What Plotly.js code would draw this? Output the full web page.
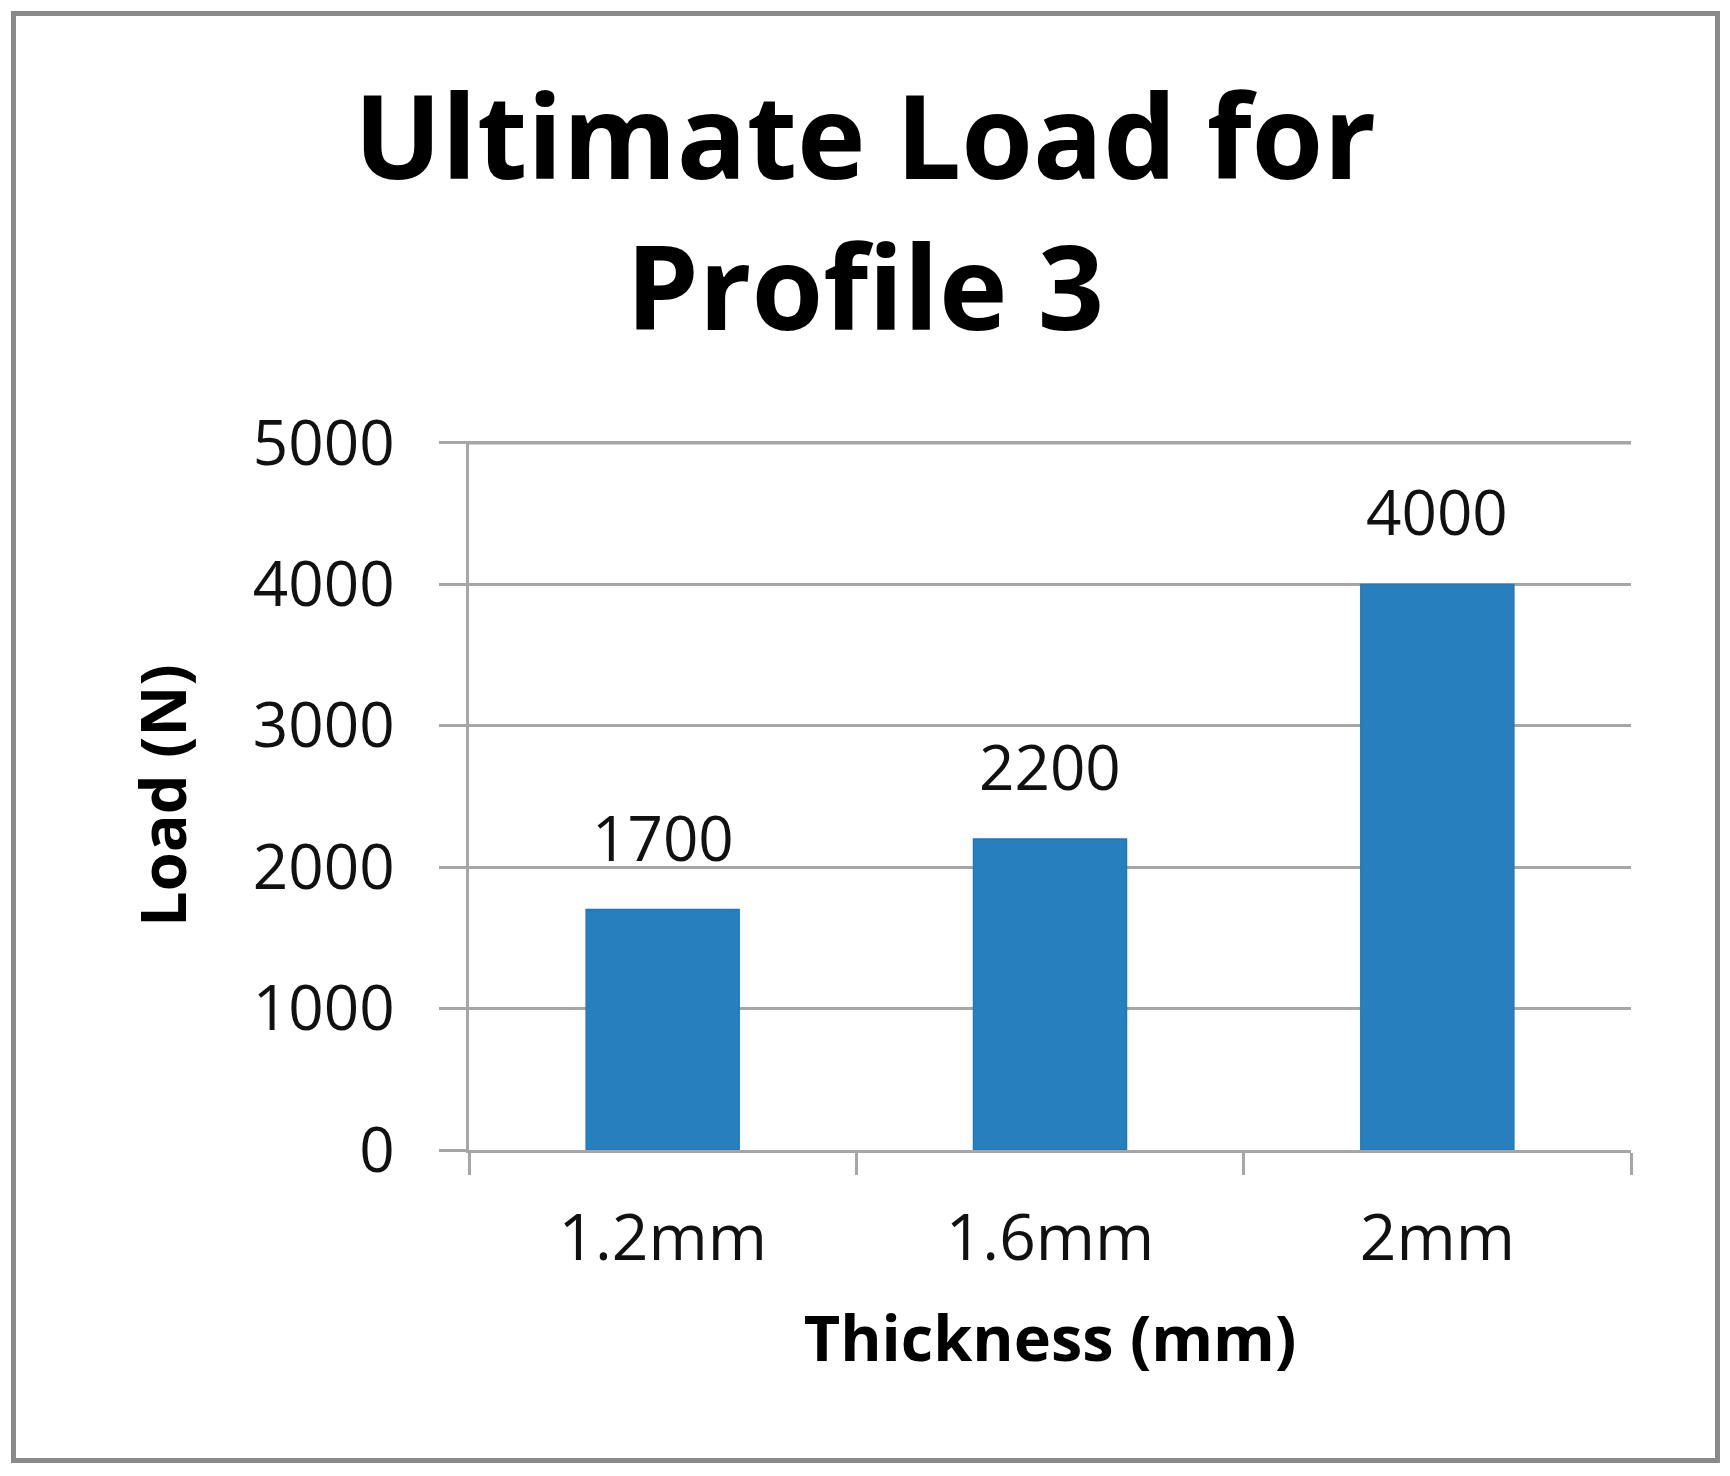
<!DOCTYPE html>
<html>
<head>
<meta charset="utf-8">
<script src="https://cdn.plot.ly/plotly-3.0.1.min.js"></script>
<style>
  html, body { margin: 0; padding: 0; background: #ffffff; }
  #chart { width: 1730px; height: 1476px; position: relative; }
  #frame { position: absolute; left: 11px; top: 11px; width: 1709px; height: 1452px;
           box-sizing: border-box; border: 5px solid #8a8a8a; pointer-events: none; }
</style>
</head>
<body>
<div id="chart"></div>
<div id="frame"></div>
<script>
const categories = ["1.2mm", "1.6mm", "2mm"];
const loads = [1700, 2200, 4000];
const yTicks = [0, 1000, 2000, 3000, 4000, 5000];

const font = "Open Sans, Noto Sans, sans-serif";
const gridColor = "#a6a6a6";

const trace = {
  type: "bar",
  x: categories,
  y: loads,
  marker: { color: "#2780be", line: { color: "#1f77c0", width: 1.5 } },
  hoverinfo: "skip"
};

const annotations = categories.map((c, i) => ({
  x: c, y: loads[i], xref: "x", yref: "y",
  text: String(loads[i]),
  showarrow: false, yanchor: "bottom", yshift: 29,
  font: { family: font, size: 62, color: "#111111" }
}));

const yMax = yTicks[yTicks.length - 1];

const layout = {
  width: 1730, height: 1476,
  margin: { l: 469, r: 99, t: 441, b: 326, pad: 0 },
  paper_bgcolor: "#ffffff", plot_bgcolor: "#ffffff",
  showlegend: false,
  bargap: 0.605,
  title: {
    text: "Ultimate Load for<br>Profile 3",
    x: 0.5, xanchor: "center",
    y: 1 - 179 / 1476, yref: "container", yanchor: "top",
    font: { family: font, size: 116, weight: "bold", color: "#000000" }
  },
  xaxis: {
    type: "category",
    tickson: "boundaries",
    ticks: "outside", ticklen: 22, tickwidth: 3, tickcolor: gridColor,
    showline: true, linecolor: gridColor, linewidth: 3,
    showgrid: false, zeroline: false,
    tickfont: { family: font, size: 64, color: "#111111" },
    ticklabelstandoff: 30,
    title: { text: "Thickness (mm)", standoff: 40,
             font: { family: font, size: 63, weight: "bold", color: "#000000" } },
    automargin: false
  },
  yaxis: {
    range: [0, 5014],
    tickvals: yTicks,
    ticktext: yTicks.map(String),
    ticks: "outside", ticklen: 27, tickwidth: 3, tickcolor: gridColor,
    showline: true, linecolor: gridColor, linewidth: 3,
    showgrid: true, gridcolor: gridColor, gridwidth: 3,
    zeroline: false,
    tickfont: { family: font, size: 62, color: "#111111" },
    ticklabelstandoff: 32,
    title: { text: "Load (N)", standoff: 46,
             font: { family: font, size: 63, weight: "bold", color: "#000000" } },
    automargin: false
  },
  shapes: [{
    type: "line", layer: "below",
    xref: "paper", x0: 0, x1: 1,
    yref: "y", y0: yMax, y1: yMax,
    line: { color: gridColor, width: 3 }
  }],
  annotations: annotations
};

Plotly.newPlot("chart", [trace], layout, { displayModeBar: false, staticPlot: true });
</script>
</body>
</html>
